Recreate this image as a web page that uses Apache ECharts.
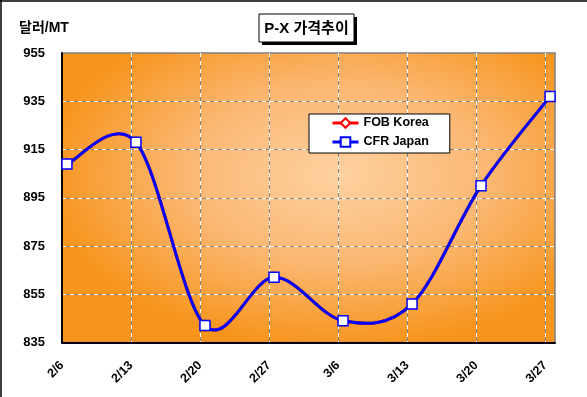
<!DOCTYPE html>
<html><head><meta charset="utf-8">
<script src="https://cdn.jsdelivr.net/npm/echarts@6/dist/echarts.min.js"></script>
<style>html,body{margin:0;padding:0;background:#fff}#c{width:587px;height:397px}</style>
</head><body><div id="c"></div>
<script>
// ---- data ----
const categories = ['2/6','2/13','2/20','2/27','3/6','3/13','3/20','3/27'];
const fobKorea = [909, 918, 842, 862, 844, 851, 900, 937];
const cfrJapan = [909, 918, 842, 862, 844, 851, 900, 937];
const yTickLabels = ['835','855','875','895','915','935','955'];
const unitLabel = '달러/MT';
const chartTitle = 'P-X 가격추이';

// ---- axis setup (date axis: 7 days per category, 50 days span) ----
const Y_MIN = 835, Y_MAX = 955, Y_STEP = 20;
const DAYS = 7, SPAN = 50;

// ---- layout ----
const G = {left: 62, top: 53, width: 493, height: 289.5};
const FONT = '"Liberation Sans", Arial, sans-serif';
const KFONT = '"Liberation Sans", "Noto Sans CJK KR", sans-serif';

function toPts(vals) { return vals.map((v, i) => [i * DAYS + 0.5, v - Y_MIN]); }

function curve(name, vals, color, z) {
  const pts = toPts(vals);
  return {
    type: 'custom', name: name + '_curve', silent: true, z: z, clip: false,
    xAxisIndex: 0, yAxisIndex: 0,
    data: pts.slice(0, -1).map((p, i) => [p[0], p[1], i]),
    renderItem(params, api) {
      const i = api.value(2);
      const P = k => api.coord(pts[Math.max(0, Math.min(pts.length - 1, k))]);
      const p0 = P(i - 1), p1 = P(i), p2 = P(i + 1), p3 = P(i + 2);
      const t = 1 / 6;
      return {
        type: 'bezierCurve',
        shape: {
          x1: p1[0], y1: p1[1], x2: p2[0], y2: p2[1],
          cpx1: p1[0] + (p2[0] - p0[0]) * t, cpy1: p1[1] + (p2[1] - p0[1]) * t,
          cpx2: p2[0] - (p3[0] - p1[0]) * t, cpy2: p2[1] - (p3[1] - p1[1]) * t
        },
        style: {stroke: color, lineWidth: 3, fill: null}
      };
    }
  };
}

function markers(name, vals, color, symbol, size, z) {
  return {
    type: 'line', name: name, data: toPts(vals), z: z,
    xAxisIndex: 0, yAxisIndex: 0,
    symbol: symbol, symbolSize: size, showAllSymbol: true,
    lineStyle: {opacity: 0, width: 3, color: color},
    itemStyle: {color: '#ffffff', borderColor: color, borderWidth: 1.5},
    emphasis: {disabled: true}
  };
}

const xAxisBase = {type: 'value', min: 0, max: SPAN, interval: DAYS};
const yAxisBase = {type: 'value', min: 0, max: Y_MAX - Y_MIN, interval: Y_STEP};

const chart = echarts.init(document.getElementById('c'), null, {renderer: 'canvas'});
chart.setOption({
  animation: false,
  backgroundColor: '#ffffff',
  grid: {left: G.left, top: G.top, width: G.width, height: G.height,
         show: true, borderColor: '#808080', borderWidth: 1.5, backgroundColor: 'transparent',
         containLabel: false, outerBoundsMode: 'none'},
  xAxis: [
    Object.assign({}, xAxisBase, {
      axisLine: {show: true, onZero: false, lineStyle: {color: '#000', width: 2}},
      axisTick: {show: false},
      splitLine: {show: true, showMinLine: false, showMaxLine: false,
                  lineStyle: {color: '#ffffff', width: 1, type: [4, 4]}},
      axisLabel: {
        rotate: 45, margin: 21, color: '#000', fontWeight: 'bold', fontSize: 12.5, fontFamily: FONT,
        showMaxLabel: false,
        formatter: v => (v % DAYS === 0 && v / DAYS < categories.length) ? categories[v / DAYS] : ''
      }
    }),
    Object.assign({}, xAxisBase, {
      show: true, axisLine: {show: false}, axisTick: {show: false}, axisLabel: {show: false},
      splitLine: {show: true, showMinLine: false, showMaxLine: false,
                  lineStyle: {color: '#808080', width: 1, type: [4, 4], dashOffset: 4}}
    })
  ],
  yAxis: [
    Object.assign({}, yAxisBase, {
      axisLine: {show: true, onZero: false, lineStyle: {color: '#000', width: 2}},
      axisTick: {show: false},
      splitLine: {show: true, showMinLine: false, showMaxLine: false,
                  lineStyle: {color: '#ffffff', width: 1, type: [4, 4]}},
      axisLabel: {
        margin: 17, color: '#000', fontWeight: 'bold', fontSize: 13, fontFamily: FONT,
        formatter: v => yTickLabels[Math.round(v / Y_STEP)] || ''
      }
    }),
    Object.assign({}, yAxisBase, {
      show: true, axisLine: {show: false}, axisTick: {show: false}, axisLabel: {show: false},
      splitLine: {show: true, showMinLine: false, showMaxLine: false,
                  lineStyle: {color: '#808080', width: 1, type: [4, 4], dashOffset: 4}}
    })
  ],
  legend: {
    left: 309, top: 114, orient: 'vertical',
    padding: [2, 21, 4, 22], itemGap: 5, itemWidth: 26, itemHeight: 12,
    backgroundColor: '#ffffff', borderColor: '#000000', borderWidth: 1, borderRadius: 0,
    selectedMode: false,
    textStyle: {color: '#000', fontWeight: 'bold', fontSize: 12.5, fontFamily: FONT, lineHeight: 14},
    data: [
      {name: 'FOB Korea', lineStyle: {color: '#ff0000', opacity: 1, width: 3}},
      {name: 'CFR Japan', lineStyle: {color: '#0000ff', opacity: 1, width: 3}}
    ]
  },
  graphic: [
    {type: 'rect', z: -10, x: G.left, y: G.top, scaleY: G.height / G.width, silent: true,
     shape: {x: 0, y: 0, width: G.width, height: G.width},
     style: {fill: {type: 'radial', x: 0.56, y: 0.42, r: 0.6,
       colorStops: [{offset: 0, color: '#FDD1A0'}, {offset: 0.5, color: '#FBB874'}, {offset: 1, color: '#F7941C'}]}}},
    {type: 'line', silent: true, shape: {x1: 0, y1: 1, x2: 587, y2: 1}, style: {stroke: '#000', lineWidth: 1.5}},
    {type: 'line', silent: true, shape: {x1: 1, y1: 0, x2: 1, y2: 397}, style: {stroke: '#000', lineWidth: 1.5}},
    {type: 'text', silent: true, x: 19, y: 28,
     style: {text: unitLabel, fill: '#000', font: 'bold 14px ' + KFONT, verticalAlign: 'middle'}},
    {type: 'rect', silent: true, shape: {x: 262, y: 17, width: 95, height: 28}, style: {fill: '#000'}},
    {type: 'rect', silent: true, shape: {x: 259, y: 14, width: 95, height: 28}, style: {fill: '#fff', stroke: '#000', lineWidth: 1}},
    {type: 'text', silent: true, x: 306.5, y: 28.5,
     style: {text: chartTitle, fill: '#000', font: 'bold 15px ' + KFONT, align: 'center', verticalAlign: 'middle'}}
  ],
  series: [
    curve('FOB Korea', fobKorea, '#ff0000', 2),
    markers('FOB Korea', fobKorea, '#ff0000', 'diamond', 10, 3),
    curve('CFR Japan', cfrJapan, '#0000ff', 4),
    markers('CFR Japan', cfrJapan, '#0000ff', 'rect', 10, 5)
  ]
});
</script></body></html>
